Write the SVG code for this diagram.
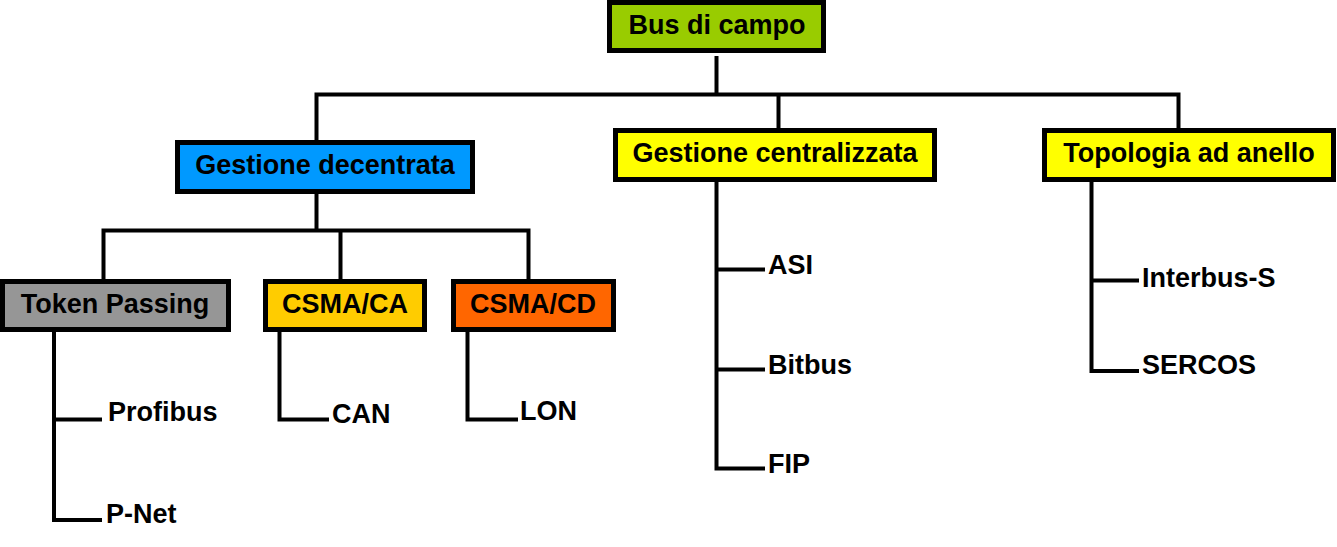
<svg xmlns="http://www.w3.org/2000/svg" width="1337" height="547" viewBox="0 0 1337 547">
<style>
.box{stroke:#000;stroke-width:5}
.t{font-family:"Liberation Sans",Arial,sans-serif;font-weight:bold;font-size:27px;fill:#000}
.c{text-anchor:middle}
.ln{fill:none;stroke:#000;stroke-width:4;stroke-linecap:butt;stroke-linejoin:miter}
</style>
<rect width="1337" height="547" fill="#fff"/>
<g id="connectors">
<path class="ln" d="M716.5,56 V94.5"/>
<path class="ln" d="M316.5,140 V94.5 H1178.5 V128"/>
<path class="ln" d="M778.5,94.5 V128"/>
<path class="ln" d="M316.5,194 V230.5"/>
<path class="ln" d="M103.5,279 V230.5 H528.5 V279"/>
<path class="ln" d="M340.5,230.5 V279"/>
<path class="ln" d="M54,332 V520 H102"/>
<path class="ln" d="M54,419.5 H102"/>
<path class="ln" d="M279.5,332 V419.5 H329"/>
<path class="ln" d="M467.5,332 V419.5 H518"/>
<path class="ln" d="M716.5,182 V468.5 H765"/>
<path class="ln" d="M716.5,269.5 H765"/>
<path class="ln" d="M716.5,369.5 H765"/>
<path class="ln" d="M1091.5,182 V371 H1139"/>
<path class="ln" d="M1091.5,280.5 H1139"/>
</g>
<g id="bus-di-campo">
<rect class="box" x="609.5" y="2.5" width="214" height="48" fill="#99CC00"/>
<text class="t c" x="717" y="34">Bus di campo</text>
</g>
<g id="gestione-decentrata">
<rect class="box" x="177.5" y="142.5" width="295" height="49" fill="#0099FF"/>
<text class="t c" x="325" y="174">Gestione decentrata</text>
</g>
<g id="gestione-centralizzata">
<rect class="box" x="615.5" y="130.5" width="319" height="49" fill="#FFFF00"/>
<text class="t c" x="775" y="162">Gestione centralizzata</text>
</g>
<g id="topologia-ad-anello">
<rect class="box" x="1044.5" y="130.5" width="289" height="49" fill="#FFFF00"/>
<text class="t c" x="1189" y="162">Topologia ad anello</text>
</g>
<g id="token-passing">
<rect class="box" x="2.5" y="281.5" width="226" height="48" fill="#969696"/>
<text class="t c" x="115" y="313">Token Passing</text>
</g>
<g id="csma-ca">
<rect class="box" x="265.5" y="281.5" width="159" height="48" fill="#FFCC00"/>
<text class="t c" x="345" y="313">CSMA/CA</text>
</g>
<g id="csma-cd">
<rect class="box" x="453.5" y="281.5" width="160" height="48" fill="#FF6600"/>
<text class="t c" x="533" y="313">CSMA/CD</text>
</g>
<g id="profibus"><text class="t" x="108" y="421">Profibus</text></g>
<g id="p-net"><text class="t" x="106" y="523">P-Net</text></g>
<g id="can"><text class="t" x="332" y="423">CAN</text></g>
<g id="lon"><text class="t" x="520" y="420">LON</text></g>
<g id="asi"><text class="t" x="768" y="274">ASI</text></g>
<g id="bitbus"><text class="t" x="768" y="374">Bitbus</text></g>
<g id="fip"><text class="t" x="768" y="473">FIP</text></g>
<g id="interbus-s"><text class="t" x="1142" y="287">Interbus-S</text></g>
<g id="sercos"><text class="t" x="1142" y="374">SERCOS</text></g>
</svg>
